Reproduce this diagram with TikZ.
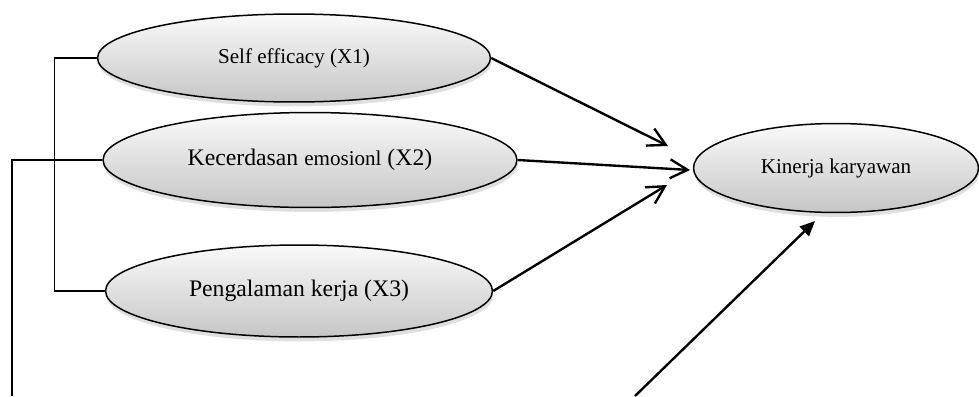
\documentclass[tikz,border=0pt]{standalone}
\usepackage{fontspec}
\setmainfont{Liberation Serif}
\usetikzlibrary{shapes.geometric,arrows.meta,shadows}

\begin{document}
\begin{tikzpicture}[x=0.02cm,y=-0.02cm,
    var/.style={ellipse, draw, line width=0.85pt, inner sep=0pt,
      top color=gray!4, bottom color=gray!45,
      drop shadow={opacity=0.25, shadow xshift=0.5pt, shadow yshift=-2.5pt}},
    link/.style={line width=0.8pt},
    effect/.style={line width=1.35pt, -{Straight Barb[length=3.5mm,width=3.8mm]}},
    direct/.style={line width=1.35pt, -{Triangle[length=3mm,width=2.6mm]}}]
    \useasboundingbox (0,0) rectangle (979,396);
    % variabel bebas
    \node[var, minimum width=7.86cm, minimum height=1.76cm] (x1) at (294,58)
      {\fontsize{12}{14}\selectfont Self efficacy (X1)};
    \node[var, minimum width=8.28cm, minimum height=1.9cm] (x2) at (310,160)
      {\fontsize{13.5}{15}\selectfont Kecerdasan {\fontsize{12}{14}\selectfont emosionl} (X2)};
    \node[var, minimum width=7.74cm, minimum height=1.84cm] (x3) at (299,291)
      {\fontsize{13.5}{15}\selectfont Pengalaman kerja (X3)};
    % variabel terikat
    \node[var, minimum width=5.7cm, minimum height=1.78cm] (ky) at (836,168)
      {\fontsize{12}{14}\selectfont Kinerja karyawan};
    % garis kurung
    \draw[link] (x1.west) -- ++(-42,0) |- (x3.west);
    \coordinate (bot) at (12,396);
    \draw[link] (x2.west) -| (bot);
    % panah
    \coordinate (t1) at (668,146);
    \coordinate (t2) at (690,170);
    \coordinate (t3) at (667,185);
    \draw[effect] (x1.east) -- (t1);
    \draw[effect] (x2.east) -- (t2);
    \draw[effect] (x3.east) -- (t3);
    \coordinate (s4) at (635,396);
    \coordinate (t4) at (815,221);
    \draw[direct] (s4) -- (t4);
  \end{tikzpicture}
\end{document}
